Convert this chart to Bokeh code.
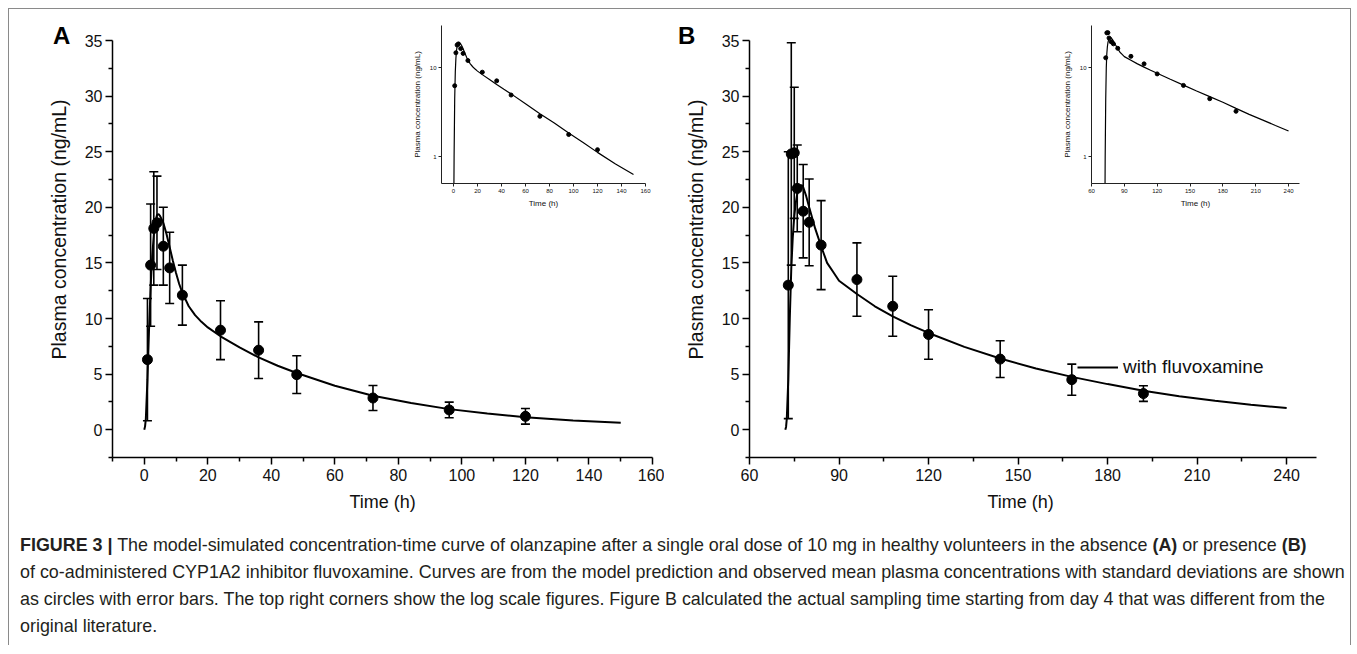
from bokeh.plotting import figure
from bokeh.models import (Range1d, FixedTicker, Whisker, ColumnDataSource, Title,
                          Legend, LegendItem, Div, TeeHead, BasicTickFormatter)
from bokeh.layouts import column
from bokeh.embed import file_html
from bokeh.resources import INLINE
import numpy as np

# ---------------- data ----------------
# Panel A: olanzapine alone
a_obs_t = [1, 2, 3, 4, 6, 8, 12, 24, 36, 48, 72, 96, 120]
a_obs_mean = [6.3, 14.8, 18.1, 18.6, 16.5, 14.55, 12.1, 8.95, 7.15, 4.95, 2.85, 1.78, 1.2]
a_obs_sd = [5.5, 5.5, 5.1, 4.2, 3.5, 3.2, 2.7, 2.65, 2.55, 1.7, 1.12, 0.7, 0.7]
a_sim_t = [0, 0.25, 0.5, 1, 1.5, 2, 2.5, 3, 3.5, 4, 4.5, 5, 6, 7, 8, 9, 10, 11, 12, 14, 16,
           18, 20, 24, 30, 36, 42, 48, 60, 72, 84, 96, 108, 120, 135, 150]
a_sim_c = [0, 0.3, 1.0, 4.5, 9.0, 12.8, 15.6, 17.5, 18.7, 19.3, 19.4, 19.2, 18.6, 17.6, 16.4,
           15.2, 14.1, 13.1, 12.3, 11.1, 10.3, 9.7, 9.2, 8.4, 7.4, 6.5, 5.75, 5.1, 3.95, 3.05,
           2.4, 1.85, 1.45, 1.12, 0.83, 0.63]

# Panel B: with fluvoxamine
b_obs_t = [73, 74, 75, 76, 78, 80, 84, 96, 108, 120, 144, 168, 192]
b_obs_mean = [13.0, 24.8, 24.9, 21.7, 19.65, 18.65, 16.6, 13.5, 11.1, 8.56, 6.35, 4.5, 3.25]
b_obs_sd = [12.0, 10.0, 5.9, 3.9, 4.2, 3.9, 4.0, 3.3, 2.7, 2.23, 1.65, 1.4, 0.7]
b_sim_t = [72, 72.25, 72.5, 73, 73.5, 74, 74.5, 75, 75.5, 76, 77, 77.5, 78, 79, 80, 82, 84, 86,
           88, 90, 96, 102, 108, 114, 120, 132, 144, 156, 168, 180, 192, 204, 216, 228, 240]
b_sim_c = [0, 0.25, 1.0, 4.5, 10.0, 14.5, 17.3, 19.2, 20.4, 21.2, 21.9, 22.0, 21.8, 21.0, 20.0,
           18.1, 16.5, 15.0, 14.2, 13.4, 12.2, 11.1, 10.2, 9.4, 8.7, 7.45, 6.4, 5.5, 4.75, 4.1,
           3.5, 3.0, 2.6, 2.25, 1.95]

y_ticks = [0, 5, 10, 15, 20, 25, 30, 35]
y_minor = [-2.5, 2.5, 7.5, 12.5, 17.5, 22.5, 27.5, 32.5]
a_x_ticks = [0, 20, 40, 60, 80, 100, 120, 140, 160]
a_x_minor = [-10, 10, 30, 50, 70, 90, 110, 130, 150]
b_x_ticks = [60, 90, 120, 150, 180, 210, 240]
b_x_minor = [75, 105, 135, 165, 195, 225]
log_ticks = [1, 10]

caption_html = (
    '<b>FIGURE 3 |</b> The model-simulated concentration-time curve of olanzapine after a single '
    'oral dose of 10 mg in healthy volunteers in the absence <b>(A)</b> or presence <b>(B)</b><br>'
    'of co-administered CYP1A2 inhibitor fluvoxamine. Curves are from the model prediction and '
    'observed mean plasma concentrations with standard deviations are shown<br>'
    'as circles with error bars. The top right corners show the log scale figures. Figure B '
    'calculated the actual sampling time starting from day 4 that was different from the<br>'
    'original literature.'
)

FONT = "Liberation Sans"
INK = "#111111"
# the column layout aligns all plot frames to the widest left/right border,
# so every figure uses the same side borders
MBL, MBR = 103, 12


def pos(left, top, w=None, h=None):
    s = {"position": "absolute", "left": f"{left}px", "top": f"{top}px"}
    if w is not None:
        s["width"] = f"{w}px"
        s["height"] = f"{h}px"
    return s


def main_panel(left, top, fw, xr, xt, xm, xtitle_offset, t, c, ot, om, osd):
    mbt, mbb, fh = 32, 75, 417
    W, H = MBL + fw + MBR, mbt + fh + mbb
    p = figure(width=W, height=H, x_range=Range1d(*xr), y_range=Range1d(-2.5, 35),
               output_backend="svg", toolbar_location=None,
               min_border_left=MBL, min_border_top=mbt, min_border_right=MBR,
               min_border_bottom=mbb, styles=pos(left, top, W, H))
    p.background_fill_alpha = 0
    p.border_fill_alpha = 0
    p.outline_line_color = None
    p.xgrid.visible = False
    p.ygrid.visible = False
    p.xaxis.ticker = FixedTicker(ticks=xt, minor_ticks=xm)
    p.yaxis.ticker = FixedTicker(ticks=y_ticks, minor_ticks=y_minor)
    for ax in p.axis:
        ax.major_label_text_font = FONT
        ax.major_label_text_font_size = "16px"
        ax.major_label_text_color = INK
        ax.axis_line_width = 1.5
        ax.axis_line_color = "black"
        ax.major_tick_line_width = 1.5
        ax.minor_tick_line_width = 1.5
        ax.major_tick_line_color = "black"
        ax.minor_tick_line_color = "black"
        ax.major_tick_out = 7
        ax.major_tick_in = 0
        ax.minor_tick_out = 4
        ax.minor_tick_in = 0
    p.xaxis.major_label_standoff = 4
    p.yaxis.major_label_standoff = 3
    # axis titles as side titles (allows the slight off-centre placement of the original)
    p.add_layout(Title(text="Plasma concentration (ng/mL)", align="left", offset=98,
                       standoff=23, text_font=FONT, text_font_size="19.5px",
                       text_font_style="normal", text_color=INK), "left")
    p.add_layout(Title(text="Time (h)", align="left", offset=xtitle_offset,
                       standoff=13, text_font=FONT, text_font_size="18px",
                       text_font_style="normal", text_color=INK), "below")

    line = p.line(t, c, line_color="black", line_width=2)
    ot_a = np.array(ot, dtype=float)
    om_a = np.array(om, dtype=float)
    osd_a = np.array(osd, dtype=float)
    src = ColumnDataSource(dict(t=ot_a, m=om_a, lo=om_a - osd_a, hi=om_a + osd_a))
    w = Whisker(base="t", upper="hi", lower="lo", source=src, dimension="height",
                line_color="black", line_width=1.6,
                upper_head=TeeHead(size=9, line_width=1.6, line_color="black"),
                lower_head=TeeHead(size=9, line_width=1.6, line_color="black"))
    p.add_layout(w)
    p.scatter("t", "m", source=src, size=10, fill_color="black", line_color="black")
    return p, line


def inset(left, top, fw, xr, xt, t, c, ot, om):
    mbt, mbb, fh = 10, 35, 158
    W, H = MBL + fw + MBR, mbt + fh + mbb
    p = figure(width=W, height=H, x_range=Range1d(*xr), y_range=Range1d(0.5, 30),
               y_axis_type="log", output_backend="svg", toolbar_location=None,
               min_border_left=MBL, min_border_top=mbt, min_border_right=MBR,
               min_border_bottom=mbb, styles=pos(left, top, W, H))
    p.background_fill_alpha = 0
    p.border_fill_alpha = 0
    p.outline_line_color = None
    p.xgrid.visible = False
    p.ygrid.visible = False
    p.xaxis.ticker = FixedTicker(ticks=xt, minor_ticks=[])
    p.yaxis.ticker = FixedTicker(ticks=log_ticks, minor_ticks=[])
    p.yaxis.formatter = BasicTickFormatter()
    p.xaxis.axis_label = "Time (h)"
    p.yaxis.axis_label = "Plasma concentration (ng/mL)"
    for ax in p.axis:
        ax.axis_label_text_font = FONT
        ax.axis_label_text_font_style = "normal"
        ax.axis_label_text_font_size = "8px"
        ax.axis_label_text_color = INK
        ax.major_label_text_font = FONT
        ax.major_label_text_font_size = "6px"
        ax.major_label_text_color = INK
        ax.axis_line_width = 1
        ax.axis_line_color = "#222222"
        ax.major_tick_line_color = "#222222"
        ax.major_tick_out = 3
        ax.major_tick_in = 0
        ax.major_label_standoff = 2
    p.xaxis.axis_label_standoff = 3
    p.yaxis.axis_label_standoff = 5
    tt = np.array(t, dtype=float)
    cc = np.array(c, dtype=float)
    keep = cc > 0
    p.line(tt[keep], cc[keep], line_color="black", line_width=1.2)
    p.scatter(ot, om, size=4, fill_color="black", line_color="black")
    return p


# container content origin is page (9, 9); frame left = left + MBL + 9
pA, lineA = main_panel(0, -1, 540, (-10, 160), a_x_ticks, a_x_minor, 237,
                       a_sim_t, a_sim_c, a_obs_t, a_obs_mean, a_obs_sd)
pB, lineB = main_panel(749 - 9 - MBL, -1, 567, (60, 250), b_x_ticks, b_x_minor, 238,
                       b_sim_t, b_sim_c, b_obs_t, b_obs_mean, b_obs_sd)

legend = Legend(items=[LegendItem(label="with fluvoxamine", renderers=[lineB])],
                location=(328, 79), border_line_color=None, background_fill_alpha=0,
                label_text_font=FONT, label_text_font_size="19px", label_text_color=INK,
                glyph_width=41, glyph_height=20, label_height=20, padding=0, margin=0,
                label_standoff=5, spacing=0)
pB.add_layout(legend)

iA = inset(441 - 9 - MBL, 6, 204, (-10, 160), a_x_ticks, a_sim_t, a_sim_c, a_obs_t, a_obs_mean)
iB = inset(1091 - 9 - MBL, 6, 208, (60, 250), b_x_ticks, b_sim_t, b_sim_c, b_obs_t, b_obs_mean)

letter_style = {"font-family": "Liberation Sans, Arial, sans-serif", "font-size": "24px",
                "font-weight": "bold", "line-height": "28px", "color": "black"}
divA = Div(text="A", width=30, height=30, styles={**pos(39, 8), **letter_style})
divB = Div(text="B", width=30, height=30, styles={**pos(664, 8), **letter_style})

cap = Div(text=caption_html, width=1330,
          styles={**pos(6, 518), "font-family": "Liberation Sans, Arial, sans-serif",
                  "font-size": "17.9px", "line-height": "27px", "color": "#231f20",
                  "white-space": "nowrap"})

root = column(children=[pA, pB, iA, iB, divA, divB, cap], width=1343, height=637,
              styles={"position": "relative", "left": "8px", "top": "8px",
                      "width": "1343px", "height": "637px",
                      "border-top": "1px solid #8a8a8a", "border-left": "1px solid #8a8a8a",
                      "border-right": "1px solid #8a8a8a"})

open("out.html", "w").write(file_html(root, INLINE))
